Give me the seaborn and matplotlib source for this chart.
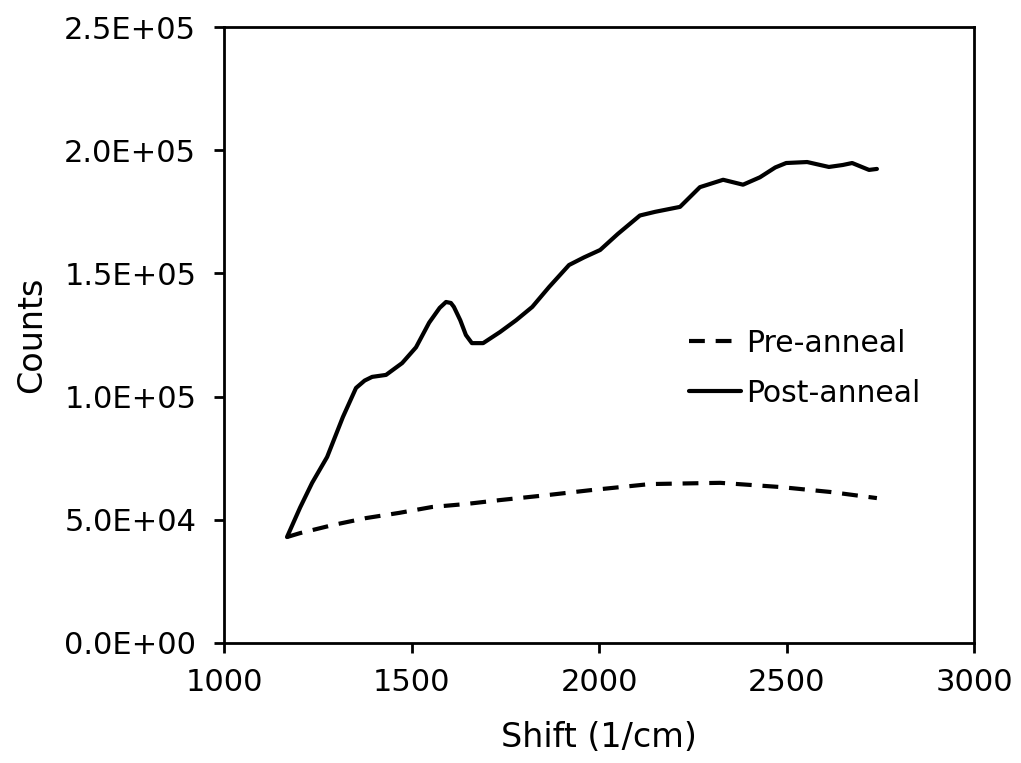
import matplotlib
matplotlib.use('Agg')
import matplotlib.pyplot as plt
import matplotlib.ticker as mticker
import pandas as pd
import seaborn as sns

# Werte
post_shift = [1168, 1203, 1235, 1275, 1317, 1352, 1375, 1395, 1432, 1475, 1512,
              1547, 1575, 1592, 1605, 1613, 1630, 1645, 1661, 1691, 1736, 1779,
              1822, 1867, 1920, 1960, 2003, 2050, 2109, 2150, 2216, 2269, 2331,
              2384, 2429, 2470, 2499, 2555, 2613, 2650, 2675, 2720, 2741]
post_counts = [43000, 55000, 65000, 75500, 91700, 103500, 106500, 108000, 108800,
               113600, 120000, 130000, 136000, 138400, 138000, 136400, 131000,
               125000, 121700, 121700, 126200, 131000, 136400, 144500, 153400,
               156500, 159500, 166000, 173500, 175000, 177000, 185000, 188000,
               186000, 189000, 193000, 194800, 195200, 193200, 194000, 194800,
               192000, 192400]

pre_shift = [1168, 1203, 1291, 1379, 1467, 1555, 1645, 1736, 1861, 1976, 2136,
             2323, 2483, 2616, 2741]
pre_counts = [43000, 44600, 47900, 50700, 52800, 55200, 56400, 58000, 60000,
              62000, 64500, 65000, 63300, 61300, 58800]

df = pd.concat([
    pd.DataFrame({'Shift': pre_shift, 'Counts': pre_counts, 'Serie': 'Pre-anneal'}),
    pd.DataFrame({'Shift': post_shift, 'Counts': post_counts, 'Serie': 'Post-anneal'}),
], ignore_index=True)

sns.set_style('white')
plt.rcParams['font.family'] = ['DejaVu Sans']
plt.rcParams.update({'text.color': 'black', 'axes.labelcolor': 'black',
                     'xtick.color': 'black', 'ytick.color': 'black'})

fig = plt.figure(figsize=(10.21, 7.63), dpi=100)
ax = fig.add_axes([0.2194, 0.1573, 0.7346, 0.8073])

sns.lineplot(data=df, x='Shift', y='Counts', style='Serie', color='black',
             dashes={'Pre-anneal': (3.8, 2.6), 'Post-anneal': ''},
             linewidth=3, ax=ax, sort=False)

ax.set_xlim(1000, 3000)
ax.set_ylim(0, 250000)
ax.set_xticks([1000, 1500, 2000, 2500, 3000])
ax.set_yticks([0, 50000, 100000, 150000, 200000, 250000])
ax.yaxis.set_major_formatter(mticker.FuncFormatter(lambda v, p: f'{v:.1E}'))

ax.set_xlabel('Shift (1/cm)', fontsize=24, labelpad=17)
ax.set_ylabel('Counts', fontsize=24, labelpad=11.5)
ax.tick_params(axis='both', labelsize=22, direction='out', length=7, width=2,
               left=True, bottom=True, top=False, right=False)
ax.tick_params(axis='x', pad=11)
ax.tick_params(axis='y', pad=13)
for s in ax.spines.values():
    s.set_linewidth(2)
    s.set_color('black')

leg = ax.legend(loc='upper left', bbox_to_anchor=(0.62, 0.51), frameon=False,
                fontsize=21.5, handlelength=1.75, handletextpad=0.15,
                labelspacing=0.7, borderpad=0, borderaxespad=0)

fig.savefig('out.png', dpi=100)
